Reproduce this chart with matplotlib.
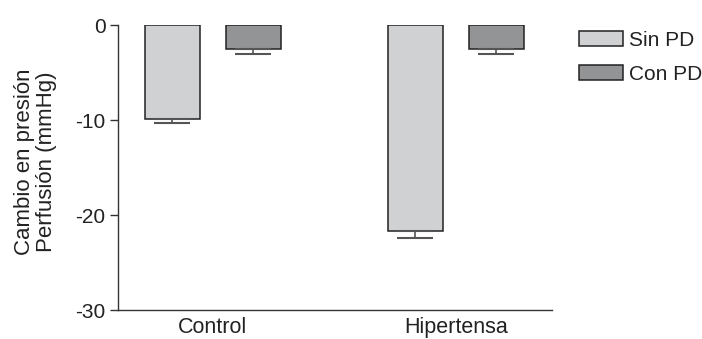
import numpy as np
import matplotlib.pyplot as plt
from matplotlib.patches import Patch

plt.rcParams['font.family'] = ['Liberation Sans', 'DejaVu Sans']
plt.rcParams['axes.unicode_minus'] = False

# datos
grupos = ['Control', 'Hipertensa']
sin_pd = [-9.9, -21.7]
sin_pd_err = [0.4, 0.7]
con_pd = [-2.5, -2.5]
con_pd_err = [0.5, 0.5]

x = np.arange(len(grupos))
ancho = 0.226
sep = 0.167

fig = plt.figure(figsize=(7.02, 3.39), dpi=100)
ax = fig.add_axes([0.168, 0.0855, 0.618, 0.8405])

borde = '#222222'
texto = '#222222'
ax.bar(x - sep, sin_pd, ancho, color='#d0d1d3', edgecolor=borde, linewidth=1.1)
ax.bar(x + sep, con_pd, ancho, color='#939496', edgecolor=borde, linewidth=1.1)

# barras de error solo hacia abajo
ax.errorbar(x - sep, sin_pd, yerr=[sin_pd_err, [0, 0]], fmt='none',
            ecolor='#555555', elinewidth=1.2, capsize=13, capthick=1.5)
ax.errorbar(x + sep, con_pd, yerr=[con_pd_err, [0, 0]], fmt='none',
            ecolor='#555555', elinewidth=1.2, capsize=13, capthick=1.5)

ax.set_ylim(-30, 0)
ax.set_xlim(-0.391, 1.395)
ax.set_yticks([0, -10, -20, -30])
ax.set_xticks(x)
ax.set_xticklabels(grupos, fontsize=15.5, color=texto)
ax.tick_params(axis='x', length=0, pad=5)
ax.tick_params(axis='y', labelsize=15, labelcolor=texto, length=6, width=1,
               color='#333333', pad=3)

for s in ['top', 'right']:
    ax.spines[s].set_visible(False)
for s in ['left', 'bottom']:
    ax.spines[s].set_color('#333333')
    ax.spines[s].set_linewidth(1)

ax.set_ylabel('Cambio en presión\nPerfusión (mmHg)', fontsize=16, color=texto,
              labelpad=10.5, linespacing=1.05)
ax.yaxis.set_label_coords(-0.14, 0.52)

handles = [Patch(facecolor='#d0d1d3', edgecolor=borde, linewidth=1.1, label='Sin PD'),
           Patch(facecolor='#939496', edgecolor=borde, linewidth=1.1, label='Con PD')]
leg = fig.legend(handles=handles, loc='upper left', bbox_to_anchor=(579 / 702, 1 - 31 / 339),
                 frameon=False, fontsize=15, handlelength=2.1, handleheight=0.72,
                 handletextpad=0.3, labelspacing=0.72, borderpad=0, borderaxespad=0)
for t in leg.get_texts():
    t.set_color(texto)

fig.savefig('out.png', dpi=100)
